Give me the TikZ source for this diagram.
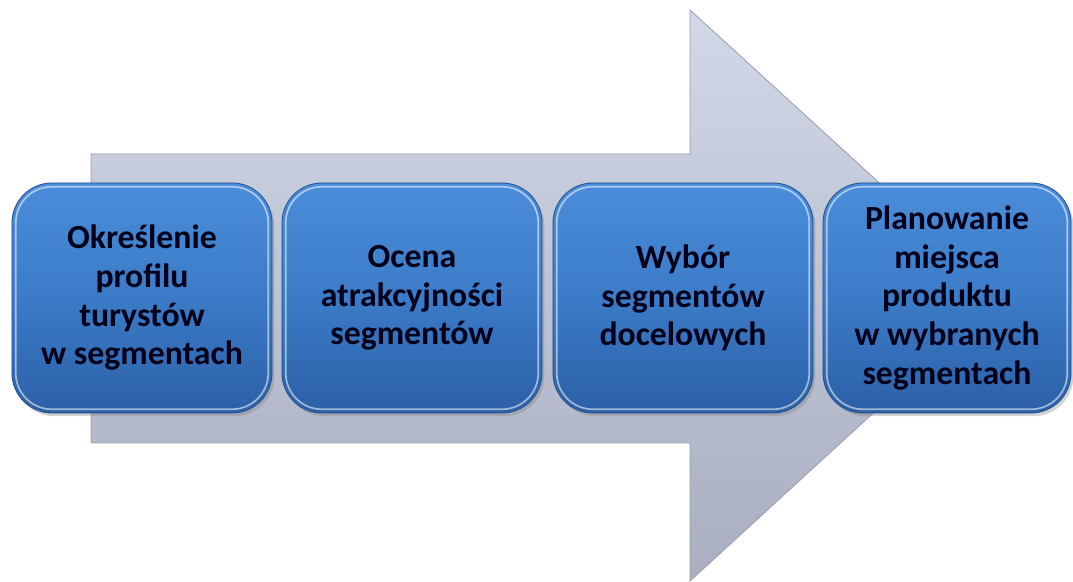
\documentclass[tikz,border=0pt]{standalone}
\usepackage{fontspec}
\setmainfont{Carlito}
\usetikzlibrary{shadows}

\definecolor{arrowtop}{HTML}{D1D8E7}
\definecolor{arrowbot}{HTML}{A9AEC0}
\definecolor{arrowline}{HTML}{9A9EAE}
\definecolor{boxtop}{HTML}{4B8DDA}
\definecolor{boxmid}{HTML}{3B7BC7}
\definecolor{boxbot}{HTML}{2C60A7}
\definecolor{boxline}{HTML}{24548F}

\tikzset{
  stagebox/.style={rounded corners=1cm, minimum width=6.5cm, minimum height=5.75cm,
    top color=boxtop, bottom color=boxbot, middle color=boxmid,
    draw=boxline, line width=0.6pt, align=center, text=black!90!blue,
    font=\bfseries\fontsize{24}{27.5}\selectfont,
    drop shadow={shadow xshift=0.6mm, shadow yshift=-0.8mm, opacity=0.35}},
  gloss/.style={white, opacity=0.55, line width=1.2pt, rounded corners=0.9cm}
}

\begin{document}
\begin{tikzpicture}[x=0.025cm, y=-0.025cm]
    \useasboundingbox (0,0) rectangle (1073,582);

    % big background arrow
    \shade[top color=arrowtop, bottom color=arrowbot, draw=arrowline, line width=0.6pt]
      (91,154) -- (690,154) -- (690,10) -- (1002,295) -- (690,581) -- (690,443) -- (91,443) -- cycle;

    % stages
    \node[stagebox] (profil) at (142,298) {Określenie\\profilu\\turystów\\w segmentach};
    \node[stagebox] (ocena) at (412,298) {Ocena\\atrakcyjności\\segmentów};
    \node[stagebox] (wybor) at (683,298) {Wybór\\segmentów\\docelowych};
    \node[stagebox, minimum width=6.2cm] (plan) at (947,298) {Planowanie\\miejsca\\produktu\\w wybranych\\segmentach};

    % glossy rims
    \foreach \n in {profil,ocena,wybor,plan}{
      \draw[gloss] ([xshift=3pt,yshift=3pt]\n.south west) rectangle ([xshift=-3pt,yshift=-3pt]\n.north east);
    }
\end{tikzpicture}
\end{document}
